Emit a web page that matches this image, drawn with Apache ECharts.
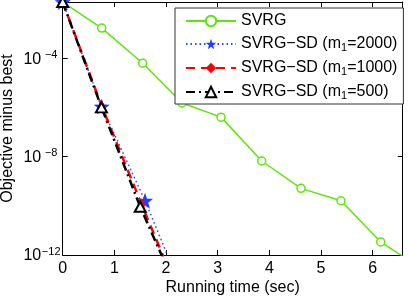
<!DOCTYPE html>
<html><head><meta charset="utf-8">
<script src="https://cdn.jsdelivr.net/npm/echarts@6/dist/echarts.min.js"></script>
<style>html,body{margin:0;padding:0;background:#fff}#c{width:409px;height:297px}</style>
</head><body><div id="c"></div>
<script>
// ---- data ----
const seriesNames = ['SVRG', 'SVRG−SD (m1=2000)', 'SVRG−SD (m1=1000)', 'SVRG−SD (m1=500)'];
const svrgTime = [0, 0.755, 1.548, 2.31, 3.064, 3.851, 4.612, 5.386, 6.154, 6.92];
const svrgObj  = [1.9e-2, 1.66e-3, 6.2e-5, 1.5e-6, 4.0e-7, 6.6e-9, 5.1e-10, 1.6e-10, 3.4e-12, 3.0e-13];
const sd2000Time = [0, 0.755, 1.593, 2.38];
const sd2000Obj  = [1.9e-2, 1.07e-6, 1.6e-10, 1.6e-14];
const sd1000Time = [0, 0.76, 1.53, 2.31];
const sd1000Obj  = [1.9e-2, 1.05e-6, 1.1e-10, 1.3e-14];
const sd500Time  = [0, 0.75, 1.50, 2.25];
const sd500Obj   = [1.9e-2, 1.0e-6, 9.1e-11, 2.5e-14];
const xTicks = [0, 1, 2, 3, 4, 5, 6];
const yTickExps = [-12, -8, -4];
const xTitle = 'Running time (sec)';
const yTitle = 'Objective minus best';

const xMax = 6.58, yMin = 1e-12, yMax = Math.pow(10, -1.72);
const pair = (xs, ys) => xs.map((x, i) => [x, ys[i]]);
const FONT = '"Liberation Sans", Arial, sans-serif';
const FS = 16;

const chart = echarts.init(document.getElementById('c'), null, {renderer: 'canvas'});
const axisCommon = {
  axisLine: {show: true, onZero: false, lineStyle: {color: '#000', width: 1}},
  axisTick: {show: true, inside: true, length: 5, lineStyle: {color: '#000'}},
  splitLine: {show: false}
};
const expLabel = v => {
  const e = Math.round(Math.log10(v));
  return '{b|10}{s|−' + Math.abs(e) + '}';
};
const richY = {
  b: {fontSize: FS, fontFamily: FONT, color: '#000', lineHeight: 18, verticalAlign: 'bottom'},
  s: {fontSize: 11, fontFamily: FONT, color: '#000', lineHeight: 11, verticalAlign: 'top', width: 20, align: 'left'}
};
const legendRich = {
  n: {fontSize: FS, fontFamily: FONT, color: '#000', lineHeight: 18},
  sub: {fontSize: 11, fontFamily: FONT, color: '#000', lineHeight: 6, verticalAlign: 'bottom'}
};

chart.setOption({
  animation: false,
  backgroundColor: '#fff',
  grid: {left: 62.7, right: 6.3, top: 2, bottom: 42, containLabel: false, outerBoundsMode: 'none'},
  xAxis: [
    Object.assign({type: 'value', min: 0, max: xMax, interval: 1, position: 'bottom',
      axisLabel: {fontSize: FS, fontFamily: FONT, color: '#000', margin: 6,
        showMaxLabel: false,
        formatter: v => xTicks.indexOf(Math.round(v)) >= 0 && Math.abs(v - Math.round(v)) < 1e-6 ? String(Math.round(v)) : ''}
    }, axisCommon),
    Object.assign({type: 'value', min: 0, max: xMax, interval: 1, position: 'top',
      axisLabel: {show: false}}, axisCommon)
  ],
  yAxis: [
    Object.assign({type: 'log', logBase: 10, min: yMin, max: yMax, interval: 4, position: 'left',
      axisLabel: {align: 'right', margin: 1.5, showMaxLabel: false,
        formatter: v => {
          const e = Math.round(Math.log10(v));
          return (yTickExps.indexOf(e) >= 0 && Math.abs(Math.log10(v) - e) < 1e-6) ? expLabel(v) : '';
        },
        rich: richY}
    }, axisCommon),
    Object.assign({type: 'log', logBase: 10, min: yMin, max: yMax, interval: 4, position: 'right',
      axisLabel: {show: false}}, axisCommon)
  ],
  graphic: [
    {type: 'text', x: 232.7, y: 288, silent: true,
      style: {text: xTitle, font: FS + 'px ' + FONT, fill: '#000', align: 'center', verticalAlign: 'middle'}},
    {type: 'text', x: 8, y: 128.5, rotation: Math.PI / 2, silent: true,
      style: {text: yTitle, font: FS + 'px ' + FONT, fill: '#000', align: 'center', verticalAlign: 'middle'}}
  ],
  legend: {
    orient: 'vertical', left: 175, top: 8, itemWidth: 50, itemHeight: 13, itemGap: 7,
    padding: [5, 6, 3, 10],
    backgroundColor: '#fff', borderColor: '#333', borderWidth: 1, borderRadius: 0,
    data: seriesNames,
    formatter: name => {
      const m = name.match(/^(.*\(m)1(=.*)$/);
      return m ? '{n|' + m[1] + '}{sub|1}{n|' + m[2] + '}' : '{n|' + name + '}';
    },
    textStyle: {fontSize: FS, fontFamily: FONT, color: '#000', rich: legendRich}
  },
  series: [
    {name: seriesNames[0], type: 'line', data: pair(svrgTime, svrgObj), clip: true,
      symbol: 'circle', symbolSize: 8, showAllSymbol: true,
      lineStyle: {color: '#5ee60a', width: 1.5, type: 'solid'},
      itemStyle: {color: '#fff', borderColor: '#5ee60a', borderWidth: 1.5}},
    {name: seriesNames[1], type: 'line', data: pair(sd2000Time, sd2000Obj), clip: true,
      symbol: 'path://M0,-10 L2.35,-3.24 L9.51,-3.09 L3.8,1.24 L5.88,8.09 L0,4 L-5.88,8.09 L-3.8,1.24 L-9.51,-3.09 L-2.35,-3.24 Z',
      symbolSize: 16,
      lineStyle: {color: '#2a47ff', width: 1.5, type: [1.5, 3]},
      itemStyle: {color: '#1f3dff', borderWidth: 0}},
    {name: seriesNames[2], type: 'line', data: pair(sd1000Time, sd1000Obj), clip: true,
      symbol: 'diamond', symbolSize: [8, 11],
      lineStyle: {color: '#ff0000', width: 2.5, type: [9, 6]},
      itemStyle: {color: '#ff0000', borderWidth: 0}},
    {name: seriesNames[3], type: 'line', data: pair(sd500Time, sd500Obj), clip: true,
      symbol: 'triangle', symbolSize: [11, 10],
      lineStyle: {color: '#000', width: 2.5, type: [9, 4, 2, 4]},
      itemStyle: {color: '#fff', borderColor: '#000', borderWidth: 2}}
  ]
});
</script></body></html>
